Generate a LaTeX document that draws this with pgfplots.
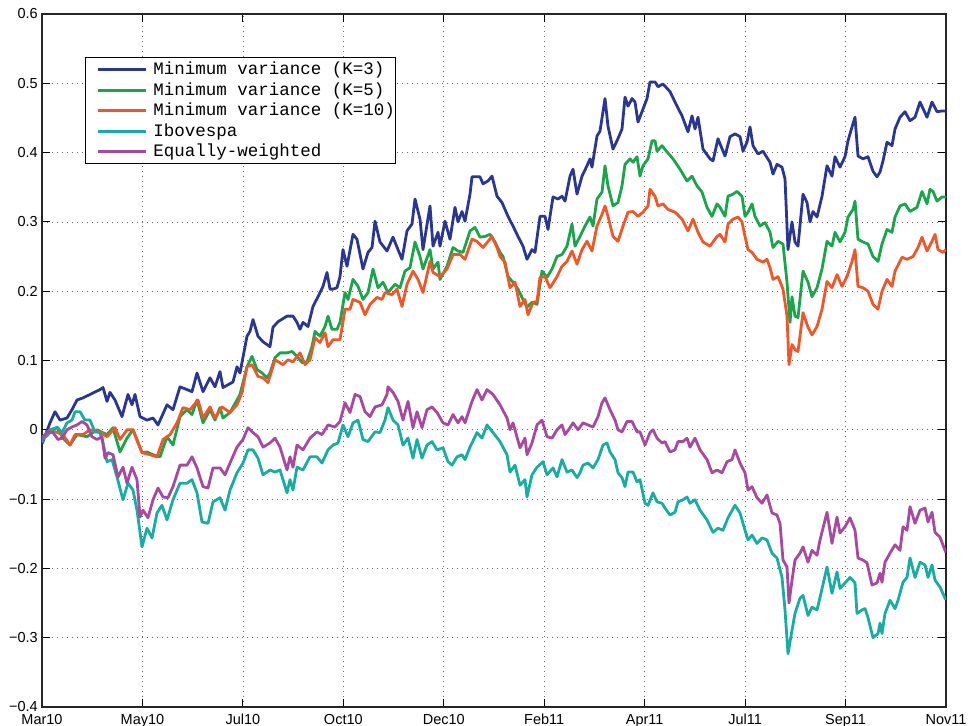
\documentclass[border=0pt]{standalone}
\usepackage{fontspec}
\setmainfont{Liberation Sans}
\newfontfamily\monofont{Liberation Mono}
\usepackage{pgfplots}
\pgfplotsset{compat=1.18}
\definecolor{cBlue}{RGB}{41,54,148}
\definecolor{cGreen}{RGB}{23,166,74}
\definecolor{cRed}{RGB}{242,86,38}
\definecolor{cTeal}{RGB}{22,173,163}
\definecolor{cMag}{RGB}{168,72,160}
\begin{document}
\begin{tikzpicture}
\begin{axis}[
  scale only axis, width=904pt, height=693pt,
  xmin=0, xmax=904, ymin=-0.4, ymax=0.6,
  xtick={0,100.44,200.89,301.33,401.78,502.22,602.67,703.11,803.56,904},
  xticklabels={Mar10,May10,Jul10,Oct10,Dec10,Feb11,Apr11,Jul11,Sep11,Nov11},
  ytick={-0.4,-0.3,-0.2,-0.1,0,0.1,0.2,0.3,0.4,0.5,0.6},
  yticklabels={−0.4,−0.3,−0.2,−0.1,0,0.1,0.2,0.3,0.4,0.5,0.6},
  tick label style={font=\fontsize{14.5}{16}\selectfont},
  xticklabel style={inner sep=0pt, yshift=-7pt},
  yticklabel style={inner sep=0pt, xshift=-4pt},
  tick align=inside, major tick length=8pt,
  every tick/.style={black, line width=1pt},
  axis line style={black!85, line width=1.2pt},
  grid=major,
  major grid style={black!60, line width=0.6pt, dash pattern=on 0.8pt off 4.2pt},
  legend cell align=left,
  legend style={at={(axis description cs:0.0476,0.938)}, anchor=north west,
    font=\monofont\fontsize{17.5}{20}\selectfont, draw=black, line width=1pt,
    inner xsep=1pt, inner ysep=2pt, row sep=0pt, column sep=6pt,
    nodes={text height=13.5pt, text depth=3pt, inner ysep=2pt, inner xsep=0pt}},
  legend image code/.code={\path (0pt,0pt); \draw[#1] (10pt,0pt) -- (58pt,0pt);},
  every axis plot/.append style={line width=2.8pt, line join=round},
]
\addplot[cBlue] coordinates {(0,-0.02)(1,-0.017)(8,0.010)(13,0.026)(18,0.014)(25,0.017)(30,0.029)(35,0.043)(41,0.046)(48,0.051)(58,0.058)(61,0.061)(65,0.041)(68,0.054)(73,0.043)(80,0.019)(86,0.051)(90,0.036)(93,0.051)(98,0.019)(105,0.014)(111,0.017)(116,0.007)(125,0.036)(131,0.029)(138,0.062)(145,0.058)(150,0.055)(155,0.082)(161,0.055)(168,0.075)(173,0.062)(178,0.084)(181,0.061)(191,0.069)(195,0.091)(198,0.082)(205,0.135)(208,0.142)(211,0.159)(216,0.135)(221,0.127)(228,0.120)(231,0.148)(236,0.156)(245,0.164)(251,0.164)(255,0.155)(258,0.145)(261,0.155)(266,0.149)(271,0.178)(276,0.192)(281,0.207)(285,0.227)(288,0.203)(291,0.203)(295,0.205)(298,0.221)(301,0.260)(305,0.236)(311,0.282)(315,0.275)(321,0.232)(326,0.256)(330,0.263)(333,0.301)(338,0.271)(345,0.258)(351,0.278)(356,0.260)(360,0.246)(365,0.287)(370,0.297)(373,0.333)(378,0.304)(381,0.260)(388,0.323)(391,0.265)(396,0.285)(398,0.265)(403,0.301)(408,0.275)(413,0.321)(416,0.300)(420,0.315)(423,0.301)(428,0.340)(430,0.365)(438,0.365)(441,0.355)(446,0.359)(450,0.366)(455,0.337)(460,0.328)(466,0.308)(471,0.294)(476,0.279)(481,0.265)(485,0.246)(490,0.260)(493,0.256)(498,0.308)(503,0.308)(506,0.289)(511,0.336)(516,0.333)(520,0.337)(523,0.330)(528,0.366)(531,0.376)(535,0.340)(540,0.366)(545,0.381)(548,0.391)(550,0.379)(555,0.424)(558,0.431)(563,0.478)(566,0.438)(571,0.405)(575,0.417)(580,0.434)(583,0.480)(586,0.467)(590,0.478)(593,0.473)(596,0.444)(600,0.459)(605,0.478)(608,0.502)(613,0.502)(616,0.495)(621,0.499)(628,0.488)(633,0.473)(640,0.453)(646,0.430)(650,0.453)(653,0.434)(656,0.451)(661,0.405)(668,0.391)(671,0.388)(676,0.420)(683,0.395)(688,0.423)(693,0.427)(698,0.423)(701,0.402)(705,0.415)(708,0.437)(711,0.410)(716,0.398)(721,0.402)(728,0.386)(731,0.369)(735,0.383)(740,0.379)(743,0.362)(746,0.260)(750,0.300)(753,0.271)(756,0.265)(761,0.340)(765,0.328)(768,0.300)(771,0.315)(775,0.307)(780,0.337)(785,0.381)(790,0.366)(793,0.394)(798,0.379)(803,0.394)(806,0.417)(810,0.437)(813,0.451)(816,0.395)(821,0.391)(826,0.394)(831,0.373)(835,0.365)(838,0.372)(841,0.388)(845,0.415)(850,0.410)(853,0.434)(858,0.451)(863,0.459)(868,0.446)(873,0.451)(878,0.473)(885,0.451)(890,0.473)(895,0.459)(900,0.460)(904,0.460)};
\addlegendentry{Minimum variance (K=3)}
\addplot[cGreen] coordinates {(0,-0.015)(1,-0.010)(8,0.000)(15,0.003)(21,-0.012)(28,-0.022)(35,-0.007)(45,-0.010)(55,0.000)(65,-0.007)(71,0.003)(78,-0.032)(85,-0.012)(91,0.000)(95,-0.014)(100,-0.033)(105,-0.032)(111,-0.036)(118,-0.039)(125,-0.010)(131,-0.022)(138,0.019)(145,0.029)(150,0.022)(155,0.043)(161,0.010)(168,0.029)(173,0.014)(178,0.032)(181,0.017)(188,0.025)(195,0.043)(198,0.051)(205,0.091)(210,0.106)(215,0.087)(220,0.082)(225,0.075)(228,0.082)(233,0.104)(238,0.111)(245,0.111)(250,0.113)(255,0.106)(260,0.097)(265,0.098)(270,0.120)(273,0.142)(278,0.135)(283,0.149)(286,0.164)(290,0.145)(295,0.145)(298,0.155)(303,0.198)(306,0.188)(311,0.217)(316,0.207)(321,0.188)(326,0.198)(331,0.232)(336,0.205)(341,0.213)(346,0.198)(353,0.210)(358,0.205)(363,0.229)(368,0.234)(373,0.271)(378,0.250)(381,0.232)(388,0.260)(391,0.232)(396,0.242)(398,0.217)(405,0.236)(411,0.263)(416,0.258)(421,0.256)(428,0.287)(433,0.292)(438,0.278)(443,0.279)(448,0.282)(453,0.271)(458,0.256)(461,0.250)(466,0.221)(471,0.213)(476,0.203)(481,0.188)(485,0.177)(490,0.184)(495,0.181)(500,0.229)(505,0.220)(510,0.232)(515,0.250)(520,0.253)(525,0.265)(530,0.297)(533,0.265)(538,0.279)(543,0.294)(548,0.307)(551,0.294)(555,0.333)(560,0.343)(563,0.381)(566,0.352)(571,0.323)(576,0.328)(580,0.352)(583,0.383)(588,0.391)(591,0.386)(595,0.394)(598,0.366)(601,0.381)(606,0.391)(610,0.417)(613,0.417)(615,0.402)(620,0.410)(625,0.401)(631,0.391)(638,0.376)(645,0.359)(650,0.366)(655,0.352)(660,0.343)(665,0.321)(670,0.308)(675,0.326)(678,0.321)(683,0.308)(686,0.337)(691,0.340)(695,0.344)(700,0.337)(703,0.308)(706,0.314)(710,0.326)(713,0.308)(718,0.294)(723,0.299)(728,0.285)(731,0.263)(736,0.272)(741,0.268)(745,0.213)(748,0.155)(750,0.192)(753,0.164)(756,0.162)(761,0.229)(766,0.213)(770,0.192)(775,0.205)(780,0.232)(785,0.272)(790,0.265)(793,0.285)(798,0.271)(803,0.285)(806,0.307)(811,0.318)(813,0.330)(816,0.275)(821,0.271)(826,0.268)(831,0.250)(836,0.243)(840,0.268)(845,0.289)(850,0.285)(853,0.307)(858,0.323)(863,0.326)(868,0.315)(875,0.321)(880,0.344)(885,0.326)(888,0.347)(891,0.344)(895,0.330)(900,0.336)(904,0.336)};
\addlegendentry{Minimum variance (K=5)}
\addplot[cRed] coordinates {(0,-0.015)(1,-0.010)(8,0.000)(21,-0.007)(28,-0.022)(33,-0.007)(41,-0.007)(48,0.000)(58,-0.003)(65,-0.010)(73,0.003)(78,-0.014)(85,0.000)(91,0.000)(96,-0.019)(100,-0.033)(108,-0.036)(115,-0.039)(121,-0.014)(128,-0.007)(135,0.010)(141,0.032)(148,0.029)(156,0.043)(161,0.017)(168,0.033)(173,0.017)(180,0.033)(188,0.025)(195,0.036)(200,0.054)(205,0.091)(210,0.094)(216,0.077)(221,0.075)(226,0.068)(233,0.101)(241,0.094)(246,0.101)(251,0.098)(258,0.111)(263,0.094)(268,0.101)(273,0.133)(278,0.126)(283,0.140)(286,0.120)(291,0.130)(298,0.130)(303,0.174)(308,0.174)(311,0.188)(318,0.184)(323,0.166)(328,0.181)(335,0.191)(340,0.188)(343,0.198)(350,0.195)(355,0.203)(360,0.178)(365,0.210)(371,0.229)(376,0.217)(381,0.198)(388,0.243)(391,0.227)(398,0.221)(405,0.232)(411,0.253)(418,0.253)(423,0.246)(430,0.275)(435,0.272)(441,0.263)(450,0.279)(455,0.263)(458,0.250)(463,0.242)(468,0.205)(473,0.213)(478,0.178)(483,0.188)(486,0.166)(491,0.184)(495,0.185)(498,0.220)(503,0.221)(508,0.205)(515,0.221)(520,0.236)(525,0.243)(530,0.258)(535,0.239)(540,0.260)(545,0.272)(550,0.258)(555,0.294)(560,0.311)(563,0.323)(566,0.308)(571,0.279)(576,0.272)(581,0.294)(586,0.314)(591,0.315)(596,0.308)(601,0.314)(606,0.323)(608,0.347)(613,0.337)(616,0.323)(621,0.326)(626,0.318)(633,0.314)(640,0.304)(646,0.287)(651,0.304)(656,0.285)(661,0.271)(668,0.265)(675,0.279)(678,0.282)(683,0.271)(686,0.297)(691,0.304)(696,0.307)(700,0.300)(703,0.279)(706,0.260)(710,0.256)(715,0.246)(721,0.242)(725,0.246)(728,0.234)(731,0.217)(736,0.221)(741,0.203)(745,0.164)(747,0.094)(750,0.123)(753,0.116)(756,0.113)(761,0.169)(766,0.148)(770,0.137)(775,0.149)(780,0.174)(785,0.214)(790,0.205)(795,0.224)(800,0.207)(805,0.221)(810,0.243)(813,0.260)(816,0.207)(821,0.205)(826,0.200)(831,0.181)(836,0.174)(840,0.200)(845,0.217)(850,0.207)(853,0.229)(860,0.249)(865,0.246)(871,0.250)(876,0.263)(880,0.278)(885,0.258)(890,0.272)(893,0.282)(896,0.260)(901,0.256)(904,0.260)};
\addlegendentry{Minimum variance (K=10)}
\addplot[cTeal] coordinates {(0,-0.018)(1,-0.014)(8,-0.004)(15,0.004)(20,-0.004)(25,0.010)(30,0.014)(33,0.026)(38,0.026)(43,0.014)(48,0.014)(53,-0.003)(58,-0.004)(61,-0.019)(65,-0.046)(70,-0.043)(75,-0.068)(81,-0.101)(86,-0.077)(91,-0.087)(95,-0.116)(100,-0.169)(105,-0.142)(110,-0.156)(115,-0.120)(120,-0.109)(125,-0.130)(131,-0.101)(138,-0.077)(145,-0.077)(150,-0.072)(155,-0.091)(160,-0.133)(166,-0.135)(171,-0.104)(178,-0.098)(183,-0.116)(188,-0.087)(195,-0.062)(201,-0.048)(206,-0.029)(211,-0.029)(216,-0.041)(221,-0.065)(228,-0.058)(233,-0.061)(238,-0.058)(245,-0.091)(248,-0.072)(251,-0.087)(255,-0.054)(261,-0.058)(268,-0.039)(275,-0.039)(280,-0.048)(286,-0.029)(291,-0.022)(296,-0.019)(301,0.007)(306,-0.010)(311,0.010)(316,0.014)(321,-0.014)(326,-0.017)(333,-0.003)(338,-0.004)(343,0.014)(346,0.032)(351,0.014)(356,0.007)(361,-0.022)(366,-0.012)(371,-0.041)(375,-0.014)(380,-0.041)(385,-0.022)(390,-0.017)(395,-0.029)(401,-0.026)(406,-0.046)(410,-0.051)(415,-0.039)(420,-0.036)(423,-0.043)(428,-0.025)(435,-0.004)(440,-0.012)(445,0.007)(451,-0.004)(458,-0.017)(465,-0.036)(468,-0.061)(473,-0.051)(478,-0.080)(483,-0.072)(485,-0.097)(490,-0.065)(495,-0.054)(501,-0.046)(505,-0.065)(511,-0.055)(515,-0.068)(520,-0.043)(525,-0.061)(530,-0.058)(535,-0.069)(538,-0.062)(541,-0.051)(546,-0.048)(551,-0.055)(556,-0.043)(561,-0.022)(565,-0.019)(568,-0.032)(573,-0.043)(576,-0.062)(580,-0.069)(583,-0.082)(586,-0.061)(591,-0.061)(595,-0.075)(598,-0.072)(603,-0.106)(606,-0.109)(611,-0.091)(615,-0.104)(620,-0.106)(623,-0.113)(628,-0.123)(633,-0.119)(636,-0.104)(641,-0.101)(645,-0.097)(648,-0.106)(653,-0.101)(658,-0.116)(665,-0.130)(671,-0.148)(676,-0.142)(681,-0.145)(686,-0.127)(693,-0.109)(698,-0.120)(703,-0.145)(706,-0.159)(710,-0.152)(715,-0.164)(720,-0.156)(725,-0.159)(730,-0.178)(735,-0.185)(740,-0.213)(743,-0.260)(746,-0.323)(750,-0.289)(753,-0.265)(758,-0.243)(761,-0.239)(766,-0.268)(770,-0.256)(775,-0.260)(778,-0.242)(785,-0.198)(790,-0.236)(795,-0.205)(798,-0.229)(803,-0.221)(808,-0.213)(813,-0.221)(815,-0.265)(820,-0.260)(823,-0.258)(826,-0.271)(831,-0.300)(836,-0.294)(838,-0.279)(840,-0.294)(843,-0.265)(848,-0.246)(853,-0.258)(856,-0.246)(861,-0.220)(865,-0.213)(868,-0.185)(873,-0.213)(878,-0.191)(883,-0.195)(886,-0.213)(890,-0.195)(893,-0.217)(898,-0.227)(903,-0.243)(904,-0.245)};
\addlegendentry{Ibovespa}
\addplot[cMag] coordinates {(0,-0.015)(1,-0.010)(6,-0.003)(11,-0.004)(16,-0.014)(20,-0.012)(25,0.000)(30,0.004)(35,0.007)(40,0.012)(45,0.007)(50,-0.010)(55,-0.014)(60,-0.010)(63,-0.041)(66,-0.033)(71,-0.036)(76,-0.068)(81,-0.054)(85,-0.077)(90,-0.054)(95,-0.072)(98,-0.126)(101,-0.116)(106,-0.127)(111,-0.101)(116,-0.084)(121,-0.097)(126,-0.098)(131,-0.082)(138,-0.051)(145,-0.051)(150,-0.039)(155,-0.055)(161,-0.082)(166,-0.084)(171,-0.055)(178,-0.055)(183,-0.065)(188,-0.048)(195,-0.025)(201,-0.014)(206,0.003)(211,-0.004)(216,-0.010)(221,-0.025)(228,-0.019)(233,-0.012)(238,-0.025)(245,-0.058)(248,-0.039)(251,-0.054)(255,-0.022)(261,-0.029)(268,-0.012)(275,-0.003)(280,-0.007)(286,0.007)(293,0.004)(298,0.012)(303,0.039)(308,0.025)(313,0.051)(318,0.048)(323,0.026)(328,0.019)(333,0.033)(340,0.036)(345,0.051)(346,0.062)(351,0.054)(356,0.041)(361,0.014)(366,0.041)(371,0.003)(375,0.026)(380,0.003)(385,0.029)(390,0.033)(395,0.025)(401,0.010)(406,0.007)(411,0.022)(416,0.010)(420,0.019)(423,0.010)(430,0.041)(435,0.058)(440,0.043)(445,0.058)(451,0.051)(458,0.036)(465,0.017)(468,0.000)(471,0.010)(478,-0.026)(483,-0.012)(485,-0.036)(490,-0.019)(495,0.007)(500,0.014)(505,-0.010)(510,-0.012)(515,0.000)(520,0.007)(523,-0.007)(528,0.003)(531,0.010)(536,0.000)(541,0.010)(546,0.007)(551,0.004)(556,0.019)(560,0.039)(563,0.046)(568,0.029)(573,0.014)(576,0.000)(580,-0.003)(585,0.012)(590,0.012)(595,-0.003)(598,-0.003)(603,-0.022)(608,-0.004)(611,0.000)(615,-0.012)(620,-0.019)(623,-0.017)(628,-0.032)(633,-0.029)(636,-0.017)(641,-0.017)(645,-0.012)(648,-0.025)(653,-0.012)(658,-0.029)(665,-0.043)(670,-0.062)(675,-0.058)(680,-0.062)(685,-0.046)(690,-0.043)(693,-0.029)(698,-0.048)(703,-0.062)(706,-0.087)(710,-0.082)(715,-0.098)(720,-0.106)(725,-0.094)(730,-0.120)(735,-0.123)(738,-0.135)(741,-0.188)(745,-0.198)(747,-0.250)(750,-0.217)(753,-0.188)(758,-0.178)(761,-0.169)(766,-0.191)(770,-0.174)(775,-0.181)(778,-0.159)(785,-0.119)(790,-0.164)(795,-0.126)(798,-0.149)(803,-0.140)(808,-0.127)(813,-0.145)(816,-0.185)(821,-0.188)(825,-0.192)(830,-0.224)(835,-0.221)(838,-0.207)(840,-0.220)(843,-0.191)(848,-0.178)(853,-0.166)(858,-0.174)(861,-0.140)(865,-0.145)(868,-0.111)(873,-0.135)(878,-0.116)(883,-0.113)(886,-0.133)(890,-0.119)(893,-0.148)(898,-0.155)(903,-0.174)(904,-0.177)};
\addlegendentry{Equally-weighted}
\end{axis}
\pgfresetboundingbox
\path[use as bounding box] ([shift={(-42pt,-19pt)}]current axis.south west) rectangle ([shift={(25pt,14pt)}]current axis.north east);
\end{tikzpicture}
\end{document}
